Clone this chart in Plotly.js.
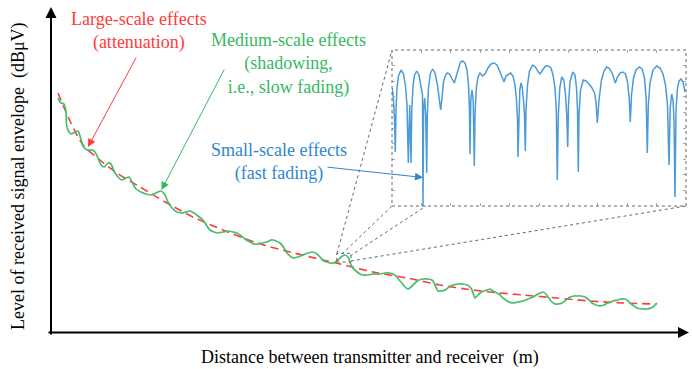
<!DOCTYPE html>
<html>
<head>
<meta charset="utf-8">
<script src="https://cdn.plot.ly/plotly-3.0.1.min.js"></script>
<style>html,body{margin:0;padding:0;background:#fff}#chart{width:692px;height:369px}</style>
</head>
<body>
<div id="chart"></div>
<script>
// ---- Data (distance / level in arbitrary units; origin at the axes corner) ----
var largeScaleDist = [7,19,32,49,66,89,116,142,172,206,239,272,289,322,356,389,422,439,472,506,539,572,606];
var largeScaleLevel = [239,211,187,172,159,145,129,115,102,89,80,72,68,60,54,47,42,40,37,34,31,29,28];

var mediumScaleDist = [7,10,13,15,15.5,17,20,24,27,29,32,36,41,44,47,50,53,57,60,63,67,71,75,78,81,85,90,95,100,105,110,114,117,121,126,131,135,139,143,147,152,156,159,163,166,172,177,182,186,189,194,199,203,206,211,216,220,222,225,229,233,236,239,242,247,252,257,262,266,269,273,276,279,282,286,290,294,297,299,301,305,309,312,317,322,329,334,339,342,345,348,351,354,357,360,364,368,372,377,381,384,387,390,394,398,402,407,412,416,419,421,423,424,426,429,433,436,439,442,446,449,452,456,461,467,472,477,482,487,492,495,497,500,504,507,511,515,519,523,526,530,534,537,541,545,549,553,557,562,567,570,574,577,579,583,586,591,596,600,602,604,606];
var mediumScaleLevel = [234,229,228,220,208,202,198,200,201,196,186,182,182,180,174,167,165,169,168,161,155,152,154,155,150,143,140,138,137,139,141,137,130,124,120,119,120,121,119,116,112,106,102,100,99,100,101,100,99,97,93,90,88,88,89,90,92,92,91,89,84,79,76,74,75,77,79,80,78,75,71,70,69,69,71,75,77,75,70,65,61,58,57,57,58,58,59,59,58,56,52,49,45,43,45,49,52,53,53,52,47,41,41,42,45,47,48,48,47,45,42,36,34,36,39,41,42,43,41,39,37,34,31,29,30,31,33,35,38,40,38,35,31,28,28,29,32,35,36,36,36,35,33,29,27,26,27,29,31,32,33,33,31,29,26,24,23,23,24,25,27,29];

// zoomed window (inset), small-scale fading
var smallScaleDist = [0.3,1.5,2.5,3.3,4,5,6.5,9,11.5,13.5,15,16.3,17.7,19,19.8,21,22.5,24.7,27,29,30.5,31,31.6,32.7,33.7,34.7,35.3,36.5,38.5,40.7,43,45.5,47.5,48.7,49.8,51.5,53.5,55.3,57.5,60,62.3,64,66.5,68.5,70.7,73,75,76.5,77.5,78,78.8,80,81.2,82.3,83,84.3,86,88,90.5,93,96,99,102,105,108,110,112,114,116.5,118.7,121,123,124.5,125.5,126,126.8,127.8,129,130.3,131.5,132.5,133.3,134,135.5,137.5,140.7,143.5,146,148,150.5,153.5,156.3,159,161,163,164.3,165.3,166.3,167.8,169.7,171.8,173.5,174.8,175.7,176.5,178,180.7,183,184.5,185.5,186.3,187,188.5,191.3,194,197,200,202.5,204,205.3,207,209.5,212,214.7,217.5,220.5,223.3,225.5,228,230.7,233.5,235.5,237.2,238.3,239.5,241.5,244,247.3,250,252.5,254.2,255.3,256.3,258,261,264.7,268,271,273.5,275.5,277,278.2,279.7,281,282,283,284,285.5,287,289,291,293];
var smallScaleLevel = [118,106,86,54,96,118,130,136,132,120,101,43,101,43,96,120,131,135,131,121,111,0,96,108,91,33,91,118,133,137,133,121,106,96,106,124,131,133,132,127,123,129,139,144,145,143,136,121,96,52,106,116,106,40,91,118,129,133,130,132,138,142,143,141,134,128,124,130,132,133,130,121,106,86,49,96,116,123,118,106,91,55,96,121,135,141,139,134.5,132,136,140,140,138,131,118,96,26,91,118,129,126,111,91,59,101,124,134,131,118,96,34,91,116,126,125,122,118,113,104,83,106,126,135,139,137.5,132,123,129,133,134,132,124,108,84,111,128,136,139,137,128,106,53,101,123,136,140,138,132,121,101,41,98,112,106,86,9,96,118,125,127,124,114];

// ---- Layout helpers (pixel -> paper) ----
var W = 692, H = 369;
function px(x){return x/W;}
function py(y){return 1 - y/H;}

var serif = 'Liberation Serif';
var RED = '#ff3b3b', GREEN = '#35b964', BLUE = '#2f86d2', INSET = '#4b9ad9', GREY = '#666';
var FS = 18;

var traces = [
  {x: largeScaleDist, y: largeScaleLevel, xaxis:'x', yaxis:'y', mode:'lines',
   line:{color:RED, width:1.6, dash:'8px,5px', shape:'spline', smoothing:0.8}, hoverinfo:'skip'},
  {x: mediumScaleDist, y: mediumScaleLevel, xaxis:'x', yaxis:'y', mode:'lines',
   line:{color:'#45be6e', width:1.7, shape:'spline', smoothing:0.7}, hoverinfo:'skip'},
  {x: smallScaleDist, y: smallScaleLevel, xaxis:'x2', yaxis:'y2', mode:'lines',
   line:{color:INSET, width:1.5}, hoverinfo:'skip'}
];

var hidden = {showgrid:false, zeroline:false, showticklabels:false, showline:false, ticks:''};

var layout = {
  width: W, height: H,
  margin:{l:0,r:0,t:0,b:0},
  paper_bgcolor:'#fff', plot_bgcolor:'rgba(0,0,0,0)',
  showlegend:false,
  font:{family:serif, size:FS, color:'#000'},
  xaxis: Object.assign({domain:[0,1], range:[-51,641], fixedrange:true}, hidden),
  yaxis: Object.assign({domain:[0,1], range:[-37,332], fixedrange:true}, hidden),
  xaxis2: {domain:[px(392), px(686)], range:[0,294], anchor:'y2', showgrid:false, zeroline:false,
           showticklabels:false, showline:false, ticks:'inside', ticklen:3, tickcolor:'#aaa', tickwidth:1,
           tick0:0, dtick:29.4, mirror:'ticks'},
  yaxis2: {domain:[py(206), py(50)], range:[0,156], anchor:'x2', side:'right', showgrid:false, zeroline:false,
           showticklabels:false, showline:false, ticks:'inside', ticklen:3, tickcolor:'#aaa', tickwidth:1,
           tick0:0, dtick:15.6, mirror:'ticks'},
  shapes: [
    {type:'rect', xref:'paper', yref:'paper', x0:px(392), x1:px(686), y0:py(206), y1:py(50),
     line:{color:GREY, width:1, dash:'dot'}},
    {type:'rect', xref:'x', yref:'y', x0:285.7, x1:300, y0:70, y1:78.7,
     line:{color:GREY, width:1, dash:'dot'}},
    {type:'line', xref:'paper', yref:'paper', x0:px(337), y0:py(253.5), x1:px(392), y1:py(50), line:{color:GREY,width:1,dash:'dot'}},
    {type:'line', xref:'paper', yref:'paper', x0:px(342), y0:py(254), x1:px(392), y1:py(206), line:{color:GREY,width:1,dash:'dot'}},
    {type:'line', xref:'paper', yref:'paper', x0:px(350), y0:py(256), x1:px(426), y1:py(206), line:{color:GREY,width:1,dash:'dot'}},
    {type:'line', xref:'paper', yref:'paper', x0:px(351), y0:py(261), x1:px(686), y1:py(206), line:{color:GREY,width:1,dash:'dot'}}
  ],
  annotations: [
    {xref:'paper', yref:'paper', x:px(689), y:py(332.5), ax:-642, ay:0, showarrow:true, arrowhead:2, arrowsize:1.1, arrowwidth:2, arrowcolor:'#000', text:''},
    {xref:'paper', yref:'paper', x:px(51), y:py(7), ax:0, ay:329, showarrow:true, arrowhead:2, arrowsize:1.1, arrowwidth:2, arrowcolor:'#000', text:''},
    {xref:'paper', yref:'paper', x:px(370), y:py(357), text:'Distance between transmitter and receiver  (m)', showarrow:false,
     font:{family:serif, size:FS, color:'#000'}, xanchor:'center', yanchor:'middle'},
    {xref:'paper', yref:'paper', x:px(19), y:py(176), text:'Level of received signal envelope  (dBμV)', showarrow:false, textangle:-90,
     font:{family:serif, size:FS, color:'#000'}, xanchor:'center', yanchor:'middle'},
    {xref:'paper', yref:'paper', x:px(139), y:py(31.5), text:'Large-scale effects<br>(attenuation)', showarrow:false,
     font:{family:serif, size:FS, color:RED}, xanchor:'center', yanchor:'middle'},
    {xref:'paper', yref:'paper', x:px(288), y:py(64), text:'Medium-scale effects<br>(shadowing,<br>i.e., slow fading)', showarrow:false,
     font:{family:serif, size:FS, color:GREEN}, xanchor:'center', yanchor:'middle'},
    {xref:'paper', yref:'paper', x:px(279), y:py(161.5), text:'Small-scale effects<br>(fast fading)', showarrow:false,
     font:{family:serif, size:FS, color:BLUE}, xanchor:'center', yanchor:'middle'},
    {xref:'paper', yref:'paper', x:px(88), y:py(147), ax:137-88, ay:56-147, showarrow:true, arrowhead:2, arrowsize:1.6, arrowwidth:1, arrowcolor:RED, text:''},
    {xref:'paper', yref:'paper', x:px(161.5), y:py(190), ax:225-161.5, ay:68-190, showarrow:true, arrowhead:2, arrowsize:1.6, arrowwidth:1, arrowcolor:GREEN, text:''},
    {xref:'paper', yref:'paper', x:px(423), y:py(177.5), ax:326-423, ay:167-177.5, showarrow:true, arrowhead:2, arrowsize:1.6, arrowwidth:1, arrowcolor:BLUE, text:''}
  ]
};

Plotly.newPlot('chart', traces, layout, {staticPlot:true, displayModeBar:false});
</script>
</body>
</html>
